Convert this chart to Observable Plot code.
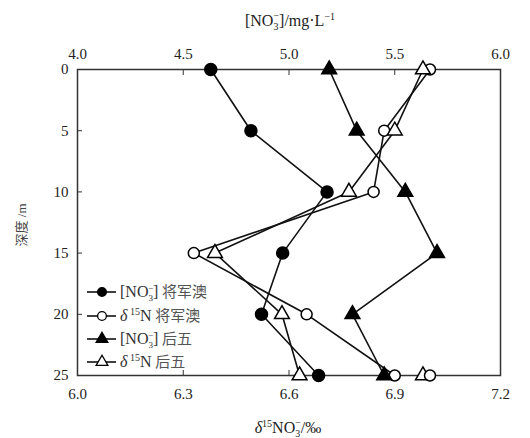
<!DOCTYPE html>
<html>
<head>
<meta charset="utf-8">
<script src="https://cdn.jsdelivr.net/npm/d3@7"></script>
<script src="https://cdn.jsdelivr.net/npm/@observablehq/plot@0.6"></script>
<style>
  html, body { margin: 0; padding: 0; background: #fff; }
  svg { display: block; }
</style>
</head>
<body>
<div id="chart"></div>
<script>
// ---- data ----
const depth = [0, 5, 10, 15, 20, 25];
const no3JJA = [4.63, 4.82, 5.18, 4.97, 4.87, 5.14];   // [NO3-] 将军澳 (top axis, mg/L)
const d15JJA = [7.00, 6.87, 6.84, 6.33, 6.65, 6.90];   // δ15N 将军澳 (bottom axis, ‰)
const no3HW  = [5.19, 5.32, 5.55, 5.70, 5.30, 5.45];   // [NO3-] 后五
const d15HW  = [6.98, 6.90, 6.77, 6.39, 6.58, 6.63];   // δ15N 后五
const extraDepth = [25, 25];
const extraD15 = [6.98, 7.00];                          // unconnected markers at 25 m
const extraSymbol = ["triangle", "circle"];
const bottomTicks = [6.0, 6.3, 6.6, 6.9, 7.2];
const topTicks = [4.0, 4.5, 5.0, 5.5, 6.0];
const yTicks = [0, 5, 10, 15, 20, 25];

// map [NO3-] (4.0–6.0) onto δ15N scale (6.0–7.2)
const toX = v => 6.0 + (v - 4.0) * 0.6;
const fromX = x => (x - 6.0) / 0.6 + 4.0;

const mk = (vals, conv) => depth.map((d, i) => ({depth: d, x: conv ? toX(vals[i]) : vals[i]}));
const sJJAno3 = mk(no3JJA, true);
const sJJAd15 = mk(d15JJA, false);
const sHWno3 = mk(no3HW, true);
const sHWd15 = mk(d15HW, false);
const extras = extraDepth.map((d, i) => ({depth: d, x: extraD15[i], symbol: extraSymbol[i]}));

const lineOpts = {x: "x", y: "depth", stroke: "#111", strokeWidth: 1.6};
const chart = Plot.plot({
  width: 530, height: 438,
  marginLeft: 77, marginRight: 30, marginTop: 69, marginBottom: 63,
  style: {fontFamily: "'Liberation Serif', 'Noto Sans CJK SC', serif", fontSize: "15px", color: "#222"},
  x: {domain: [6.0, 7.2]},
  y: {domain: [0, 25], reverse: true},
  marks: [
    Plot.frame({stroke: "#333", strokeWidth: 1.5}),
    Plot.axisX(bottomTicks, {anchor: "bottom", tickSize: -5, tickPadding: 18, tickFormat: d => d.toFixed(1), label: null, stroke: "#333"}),
    Plot.axisX(topTicks.map(toX), {anchor: "top", tickSize: -5, tickPadding: 16, tickFormat: d => fromX(d).toFixed(1), label: null, stroke: "#333"}),
    Plot.axisY(yTicks, {anchor: "left", tickSize: -5, tickPadding: 14, label: null, stroke: "#333"}),
    Plot.line(sJJAno3, lineOpts),
    Plot.line(sJJAd15, lineOpts),
    Plot.line(sHWno3, lineOpts),
    Plot.line(sHWd15, lineOpts),
    Plot.dot(sJJAno3, {x: "x", y: "depth", symbol: "circle", r: 6, fill: "#000", stroke: "#000"}),
    Plot.dot(sJJAd15, {x: "x", y: "depth", symbol: "circle", r: 5.5, fill: "#fff", stroke: "#000", strokeWidth: 1.5}),
    Plot.dot(sHWno3, {x: "x", y: "depth", symbol: "triangle", r: 5.5, fill: "#000", stroke: "#000"}),
    Plot.dot(sHWd15, {x: "x", y: "depth", symbol: "triangle", r: 5.5, fill: "#fff", stroke: "#000", strokeWidth: 1.5}),
    Plot.dot(extras, {x: "x", y: "depth", symbol: "symbol", r: 5.5, fill: "#fff", stroke: "#000", strokeWidth: 1.5})
  ]
});
document.getElementById("chart").appendChild(chart);

// ---- titles & legend ----
const svg = d3.select(chart);
const serif = "'Liberation Serif', 'Noto Sans CJK SC', serif";

// top title [NO3-]/mg·L-1
const tt = svg.append("text").attr("x", 290).attr("y", 26).attr("text-anchor", "middle")
  .attr("font-family", serif).attr("font-size", 16).attr("fill", "#222");
tt.append("tspan").text("[NO");
tt.append("tspan").attr("font-size", 10).attr("dy", 4).text("3");
tt.append("tspan").attr("font-size", 10).attr("dx", -5).attr("dy", -11).text("−");
tt.append("tspan").attr("dy", 7).text("]/mg·L");
tt.append("tspan").attr("font-size", 10).attr("dy", -6).text("−1");

// bottom title δ15NO3-/‰
const bt = svg.append("text").attr("x", 288).attr("y", 433).attr("text-anchor", "middle")
  .attr("font-family", serif).attr("font-size", 16).attr("fill", "#222");
bt.append("tspan").attr("font-style", "italic").text("δ");
bt.append("tspan").attr("font-size", 10).attr("dy", -6).text("15");
bt.append("tspan").attr("dy", 6).text("NO");
bt.append("tspan").attr("font-size", 10).attr("dy", 4).text("3");
bt.append("tspan").attr("font-size", 10).attr("dx", -5).attr("dy", -11).text("−");
bt.append("tspan").attr("dy", 7).text("/‰");

// y title
svg.append("text").attr("transform", "translate(26,225) rotate(-90)").attr("text-anchor", "middle")
  .attr("font-family", serif).attr("font-size", 13).attr("fill", "#444").text("深度 /m");

// legend
const legendItems = [
  {sym: d3.symbolCircle, fill: "#000", kind: "no3", site: "将军澳"},
  {sym: d3.symbolCircle, fill: "#fff", kind: "d15", site: "将军澳"},
  {sym: d3.symbolTriangle, fill: "#000", kind: "no3", site: "后五"},
  {sym: d3.symbolTriangle, fill: "#fff", kind: "d15", site: "后五"}
];
const rowY = [292, 316, 339, 362];
const lg = svg.append("g").attr("text-anchor", "start");
legendItems.forEach((it, i) => {
  const y = rowY[i];
  lg.append("line").attr("x1", 87).attr("x2", 116).attr("y1", y).attr("y2", y).attr("stroke", "#111").attr("stroke-width", 1.6);
  lg.append("path").attr("d", d3.symbol(it.sym, 60)()).attr("transform", `translate(102,${y})`)
    .attr("fill", it.fill).attr("stroke", "#000").attr("stroke-width", 1.3);
  const t = lg.append("text").attr("x", 120).attr("y", y + 5).attr("text-anchor", "start")
    .attr("font-family", serif).attr("font-size", 16).attr("fill", "#333");
  if (it.kind === "no3") {
    t.append("tspan").text("[NO");
    t.append("tspan").attr("font-size", 9).attr("dy", 4).text("3");
    t.append("tspan").attr("font-size", 9).attr("dx", -5).attr("dy", -10).text("−");
    t.append("tspan").attr("dy", 6).text("]");
  } else {
    t.append("tspan").attr("font-style", "italic").text("δ");
    t.append("tspan").attr("font-size", 10).attr("dy", -6).text(" 15");
    t.append("tspan").attr("dy", 6).text("N");
  }
  t.append("tspan").attr("font-size", 15).attr("fill", "#555").text(" " + it.site);
});
</script>
</body>
</html>
